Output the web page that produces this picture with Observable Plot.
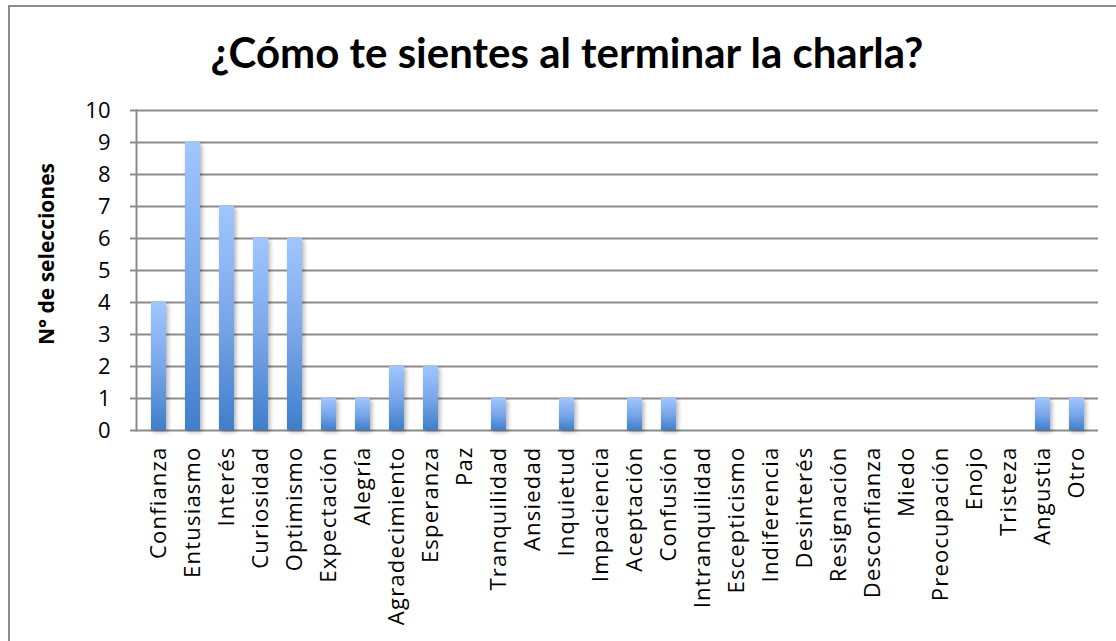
<!DOCTYPE html>
<html>
<head>
<meta charset="utf-8">
<script src="https://cdn.jsdelivr.net/npm/d3@7"></script>
<script src="https://cdn.jsdelivr.net/npm/@observablehq/plot@0.6"></script>
<style>
  html, body { margin: 0; padding: 0; background: #fff; }
  #wrap { position: relative; width: 1116px; height: 641px; overflow: hidden; font-family: "Open Sans", Lato, sans-serif; }
  #frame { position: absolute; left: 8px; top: 5px; width: 1200px; height: 700px; border-left: 2px solid #8c8c8c; border-top: 2px solid #8c8c8c; box-sizing: border-box; }
  #title { position: absolute; left: 0; width: 1134px; top: 27px; text-align: center; font-family: Lato, sans-serif; font-size: 42px; font-weight: bold; color: #000; }
  #ylabel { position: absolute; left: 46px; top: 254px; transform: translate(-50%, -50%) rotate(-90deg); font-size: 21px; font-weight: bold; white-space: nowrap; }
  #chart { position: absolute; left: 0; top: 0; }
  #chart svg text { font-size: 22px; font-family: "Open Sans", Lato, sans-serif; fill: #000; }
  #chart svg g[aria-label="x-axis tick label"] text { letter-spacing: 1.2px; }
</style>
</head>
<body>
<div id="wrap">
  <div id="frame"></div>
  <div id="chart"></div>
  <div id="title">¿Cómo te sientes al terminar la charla?</div>
  <div id="ylabel">N° de selecciones</div>
</div>
<script>
const categories = ["Confianza","Entusiasmo","Interés","Curiosidad","Optimismo","Expectación","Alegría","Agradecimiento","Esperanza","Paz","Tranquilidad","Ansiedad","Inquietud","Impaciencia","Aceptación","Confusión","Intranquilidad","Escepticismo","Indiferencia","Desinterés","Resignación","Desconfianza","Miedo","Preocupación","Enojo","Tristeza","Angustia","Otro"];
const selections = [4,9,7,6,6,1,1,2,2,0,1,0,1,0,1,1,0,0,0,0,0,0,0,0,0,0,1,1];
const yTicks = [0,1,2,3,4,5,6,7,8,9,10];

const data = categories.map((c, i) => ({category: c, value: selections[i]}));

const chart = Plot.plot({
  width: 1116,
  height: 641,
  marginLeft: 136,
  marginRight: 18,
  marginTop: 110,
  marginBottom: 211,
  style: {fontFamily: "'Open Sans', Lato, sans-serif", fontSize: "22px", color: "#000", background: "transparent"},
  x: {domain: categories, paddingInner: 0.56, paddingOuter: 0.28, label: null},
  y: {domain: [0, 10], label: null},
  marks: [
    Plot.ruleY(yTicks, {stroke: "#8c8c8c", strokeWidth: 2}),
    Plot.frame({anchor: "left", stroke: "#8c8c8c", strokeWidth: 2}),
    Plot.barY(data, {x: "category", y: "value", fill: "url(#barGrad)", filter: d => d.value > 0}),
    Plot.axisY(yTicks, {tickSize: 6, tickPadding: 20, stroke: "#8c8c8c", strokeWidth: 2, fill: "#000", label: null}),
    Plot.axisX({tickSize: 0, tickPadding: 16, tickRotate: -90, fill: "#000", label: null})
  ]
});

const ns = "http://www.w3.org/2000/svg";
const defs = document.createElementNS(ns, "defs");
defs.innerHTML = `
  <linearGradient id="barGrad" x1="0" y1="0" x2="0" y2="1">
    <stop offset="0" stop-color="#a0c6ff"/>
    <stop offset="0.5" stop-color="#7aa7ea"/>
    <stop offset="1" stop-color="#3f7ecb"/>
  </linearGradient>
  <filter id="shadow" x="-50%" y="-10%" width="200%" height="130%">
    <feDropShadow dx="2" dy="2" stdDeviation="2" flood-color="#000" flood-opacity="0.3"/>
  </filter>`;
chart.insertBefore(defs, chart.firstChild);
chart.querySelectorAll("rect").forEach(r => {
  if ((r.getAttribute("fill") || r.parentNode.getAttribute("fill") || "").includes("barGrad")) r.setAttribute("filter", "url(#shadow)");
});
document.getElementById("chart").appendChild(chart);
</script>
</body>
</html>
